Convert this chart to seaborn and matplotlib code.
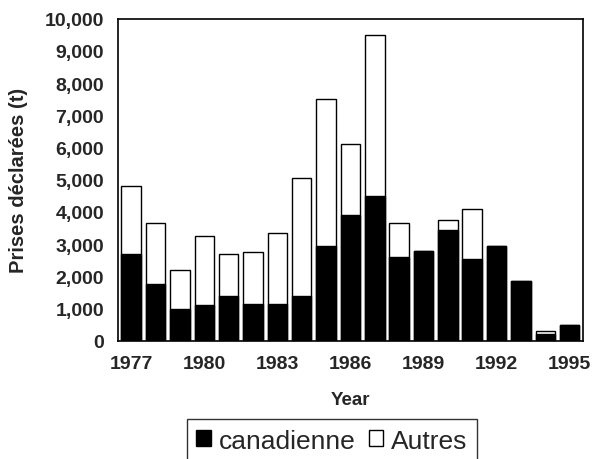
import pandas as pd
import numpy as np
import seaborn as sns
import matplotlib.pyplot as plt
from matplotlib.patches import Patch
from matplotlib.ticker import FuncFormatter

# === 1. Data ===
years = list(range(1977, 1996))
canadienne = [2700, 1750, 1000, 1100, 1400, 1150, 1150, 1400, 2950, 3900,
              4500, 2600, 2800, 3450, 2550, 2950, 1850, 200, 500]
total = [4800, 3650, 2200, 3250, 2700, 2750, 3350, 5050, 7500, 6100,
         9500, 3650, 2800, 3750, 4100, 2950, 1850, 300, 500]

df = pd.DataFrame({"Year": [str(y) for y in years],
                   "canadienne": canadienne,
                   "Total": total})

# === 2. Plot ===
sns.set_style("white")
plt.rcParams["font.family"] = ["Liberation Sans", "DejaVu Sans"]

fig = plt.figure(figsize=(5.98, 4.60), dpi=100)
ax = fig.add_axes([0.197, 0.257, 0.778, 0.70])

sns.barplot(data=df, x="Year", y="Total", color="white", edgecolor="black",
            linewidth=1.0, width=0.8, saturation=1, ax=ax)
sns.barplot(data=df, x="Year", y="canadienne", color="black", edgecolor="black",
            linewidth=1.0, width=0.8, saturation=1, ax=ax)

ax.set_ylim(0, 10000)
ax.set_xlim(-0.55, len(years) - 0.45)
ax.set_yticks(np.arange(0, 10001, 1000))
ax.yaxis.set_major_formatter(FuncFormatter(lambda v, p: f"{int(v):,}"))

ax.set_xticks(range(len(years)))
ax.set_xticklabels([str(y) if (y - 1977) % 3 == 0 else "" for y in years])

for s in ax.spines.values():
    s.set_color("black")
    s.set_linewidth(1.2)

ax.tick_params(axis="both", length=3, width=1, color="black", direction="in",
               labelsize=14)
ax.tick_params(axis="y", pad=10)
ax.tick_params(axis="x", pad=10)
for lbl in ax.get_xticklabels() + ax.get_yticklabels():
    lbl.set_fontweight("bold")

ax.set_xlabel("Year", fontsize=13.5, fontweight="bold", labelpad=14)
ax.set_ylabel("Prises déclarées (t)", fontsize=14.5, fontweight="bold", labelpad=12)

handles = [Patch(facecolor="black", edgecolor="black", label="canadienne"),
           Patch(facecolor="white", edgecolor="black", label="Autres")]
fig.legend(handles=handles, loc="lower center", bbox_to_anchor=(0.555, -0.035),
           ncol=2, frameon=True, fancybox=False, edgecolor="black",
           fontsize=19, handlelength=0.55, handleheight=0.55, handletextpad=0.3,
           columnspacing=0.5, borderpad=0.35)

plt.savefig("out.png", dpi=100)
